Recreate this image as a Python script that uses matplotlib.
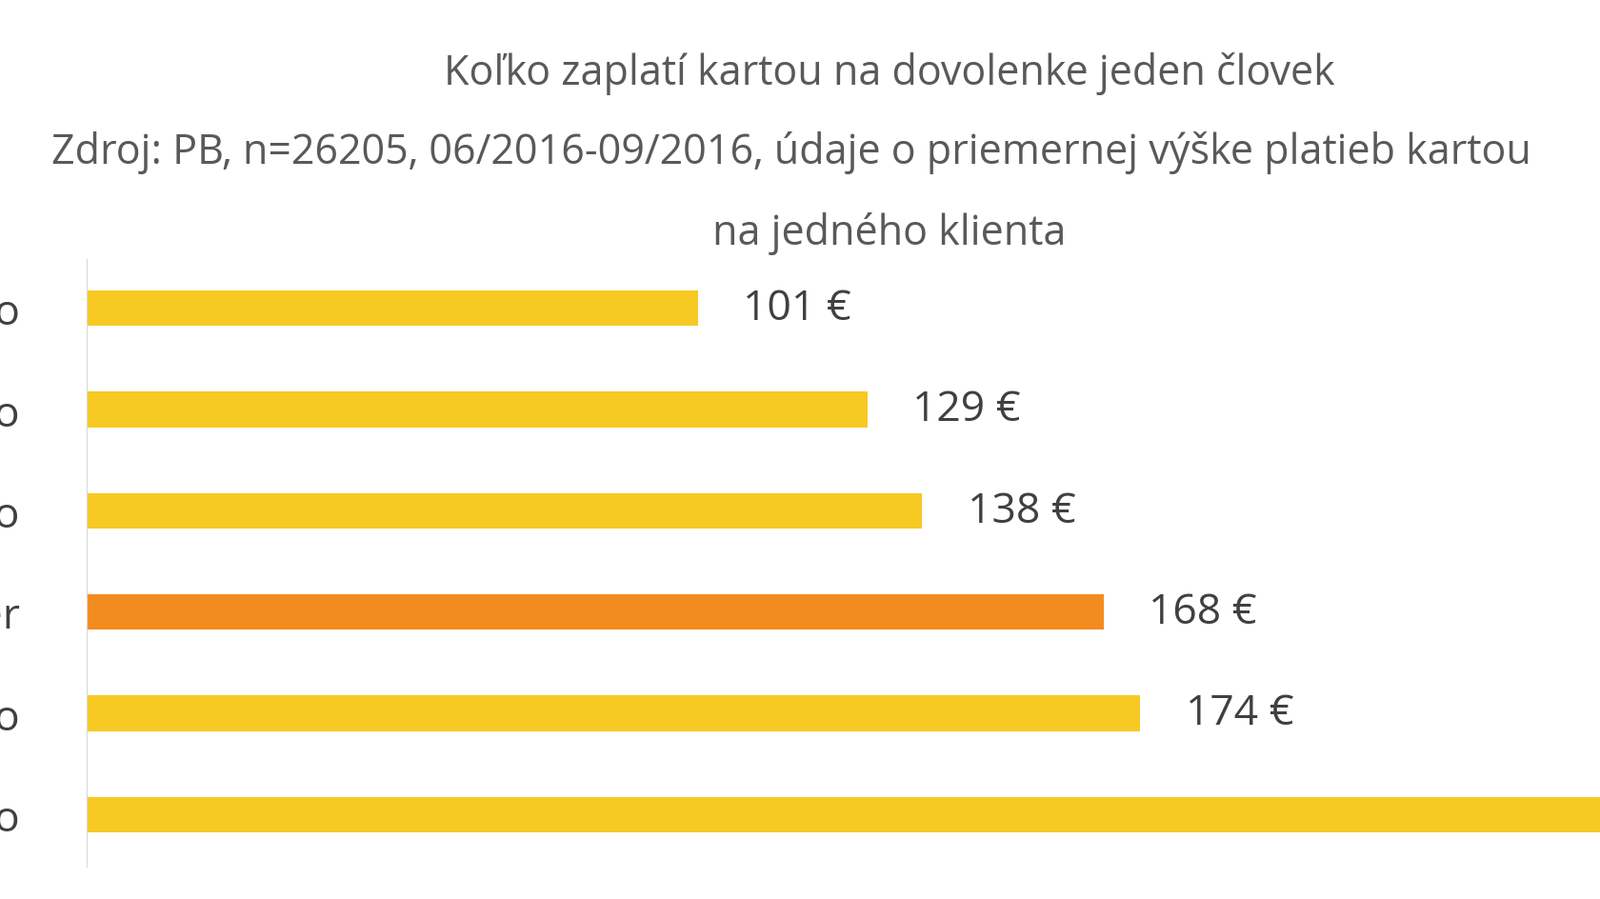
import matplotlib.pyplot as plt

categories = ["Slovensko", "Česko", "Rakúsko", "Priemer", "Maďarsko", "Chorvátsko"]
values = [101, 129, 138, 168, 174, 270]
labels = ["101 €", "129 €", "138 €", "168 €", "174 €", "270 €"]

plt.rcParams["font.family"] = ["Liberation Sans Narrow", "Open Sans", "DejaVu Sans"]

fig = plt.figure(figsize=(16.8, 9.45), dpi=100)
ax = fig.add_axes([0.054, 0.036, 0.946, 0.675])

colors = ["#F28C1E" if c == "Priemer" else "#F7C923" for c in categories]
ax.barh(range(len(values)), values, height=0.35, color=colors)
ax.set_xlim(0, 250)
ax.set_ylim(5.515, -0.485)

for i, (v, t) in enumerate(zip(values, labels)):
    ax.text(v + 7.5, i, t, va="center", ha="left", fontsize=32, color="#404040")

ax.set_yticks(range(len(categories)))
ax.set_yticklabels(categories, fontsize=32, color="#404040")
ax.tick_params(axis="y", length=0, pad=50)
ax.set_xticks([])
for s in ["top", "right", "bottom"]:
    ax.spines[s].set_visible(False)
ax.spines["left"].set_color("#D9D9D9")

title_lines = [
    "Koľko zaplatí kartou na dovolenke jeden človek",
    "Zdroj: PB, n=26205, 06/2016-09/2016, údaje o priemernej výške platieb kartou",
    "na jedného klienta",
]
for k, line in enumerate(title_lines):
    y = [0.918, 0.83, 0.74][k]
    ha = "left" if k == 1 else "center"
    x = 0.032 if k == 1 else 0.556
    fig.text(x, y, line, ha=ha, va="center", fontsize=31, color="#595959")

fig.savefig("out.png")
